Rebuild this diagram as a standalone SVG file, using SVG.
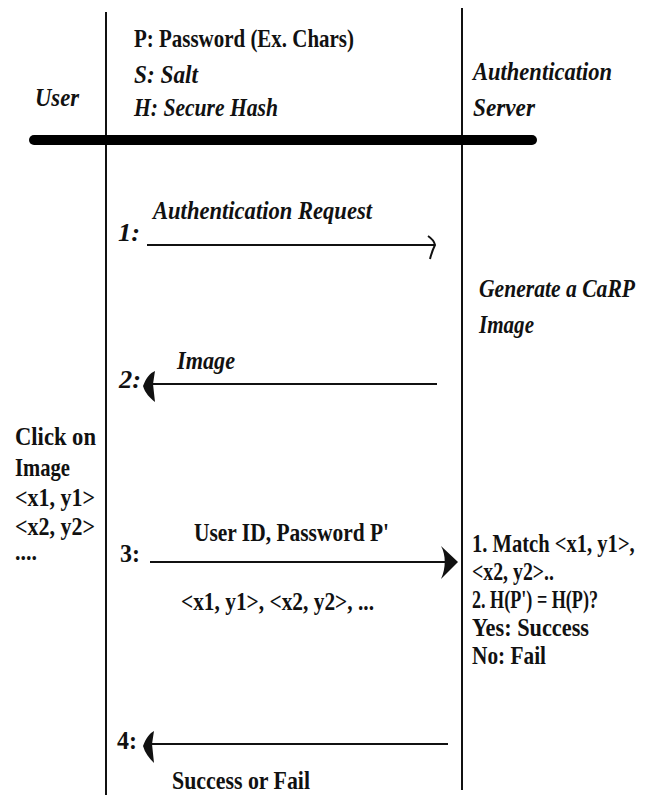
<svg xmlns="http://www.w3.org/2000/svg" width="655" height="805" viewBox="0 0 655 805">
<style>
text{font-family:'Liberation Serif','Times New Roman',serif;font-weight:bold;font-size:25px;fill:#111}
.i{font-style:italic}
.ln{stroke:#111;stroke-width:2;fill:none}
.hd{fill:#111;stroke:none}
</style>
<rect width="655" height="805" fill="#fff"/>
<g id="lifelines">
<line class="ln" x1="106" y1="12" x2="106" y2="795"/>
<line class="ln" x1="462" y1="8" x2="462" y2="790"/>
<line x1="34" y1="140" x2="532" y2="140" stroke="#000" stroke-width="10" stroke-linecap="round"/>
</g>
<g id="header-legend">
<text x="134" y="47" textLength="220" lengthAdjust="spacingAndGlyphs">P: Password (Ex. Chars)</text>
<text class="i" x="134" y="83" textLength="64" lengthAdjust="spacingAndGlyphs">S: Salt</text>
<text class="i" x="134" y="116" textLength="144" lengthAdjust="spacingAndGlyphs">H: Secure Hash</text>
</g>
<g id="user"><text class="i" x="35" y="106" textLength="44" lengthAdjust="spacingAndGlyphs">User</text></g>
<g id="server">
<text class="i" x="473" y="80" textLength="139" lengthAdjust="spacingAndGlyphs">Authentication</text>
<text class="i" x="473" y="116" textLength="62" lengthAdjust="spacingAndGlyphs">Server</text>
</g>
<g id="generate">
<text class="i" transform="translate(479,297) scale(0.8,1)" x="0" y="0" textLength="195" lengthAdjust="spacingAndGlyphs">Generate a CaRP</text>
<text class="i" x="479" y="333" textLength="55" lengthAdjust="spacingAndGlyphs">Image</text>
</g>
<g id="click">
<text x="15" y="445" textLength="81" lengthAdjust="spacingAndGlyphs">Click on</text>
<text x="15" y="476" textLength="55" lengthAdjust="spacingAndGlyphs">Image</text>
<text x="15" y="506" textLength="80" lengthAdjust="spacingAndGlyphs">&lt;x1, y1&gt;</text>
<text x="15" y="535" textLength="80" lengthAdjust="spacingAndGlyphs">&lt;x2, y2&gt;</text>
<text x="15" y="560" textLength="22" lengthAdjust="spacingAndGlyphs">....</text>
</g>
<g id="verify">
<text transform="translate(472,552) scale(0.75,1)" x="0" y="0" textLength="217" lengthAdjust="spacingAndGlyphs">1. Match &lt;x1, y1&gt;,</text>
<text x="472" y="580" textLength="82" lengthAdjust="spacingAndGlyphs">&lt;x2, y2&gt;..</text>
<text x="472" y="608" textLength="126" lengthAdjust="spacingAndGlyphs">2. H(P') = H(P)?</text>
<text x="472" y="636" textLength="117" lengthAdjust="spacingAndGlyphs">Yes: Success</text>
<text x="472" y="664" textLength="74" lengthAdjust="spacingAndGlyphs">No: Fail</text>
</g>
<g id="connectors">
<line class="ln" x1="147" y1="245" x2="435" y2="245"/>
<path class="ln" d="M428,236 Q434,240 435,245 Q432,251 430,259"/>
<text class="i" x="118" y="241" textLength="22" lengthAdjust="spacingAndGlyphs">1:</text>
<text class="i" x="153" y="219" textLength="219" lengthAdjust="spacingAndGlyphs">Authentication Request</text>

<line class="ln" x1="152" y1="384" x2="437" y2="384"/>
<path class="hd" d="M143,386 C146,378 150,373 155,371 L153,384 L155,402 C150,398 145,393 143,386 Z"/>
<text class="i" x="119" y="388" textLength="22" lengthAdjust="spacingAndGlyphs">2:</text>
<text class="i" x="177" y="369" textLength="58" lengthAdjust="spacingAndGlyphs">Image</text>

<line class="ln" x1="150" y1="562" x2="445" y2="562"/>
<path class="hd" d="M458,562 L441,546 C446,555 446,568 441,579 Z"/>
<text x="120" y="562" textLength="20" lengthAdjust="spacingAndGlyphs">3:</text>
<text x="194" y="541" textLength="195" lengthAdjust="spacingAndGlyphs">User ID, Password P'</text>
<text x="181" y="610" textLength="193" lengthAdjust="spacingAndGlyphs">&lt;x1, y1&gt;, &lt;x2, y2&gt;, ...</text>

<line class="ln" x1="152" y1="744" x2="448" y2="744"/>
<path class="hd" d="M143,746 C146,738 150,733 154,731 L152,744 L154,763 C149,758 145,753 143,746 Z"/>
<text x="117" y="749" textLength="20" lengthAdjust="spacingAndGlyphs">4:</text>
<text x="172" y="789" textLength="138" lengthAdjust="spacingAndGlyphs">Success or Fail</text>
</g>
</svg>
